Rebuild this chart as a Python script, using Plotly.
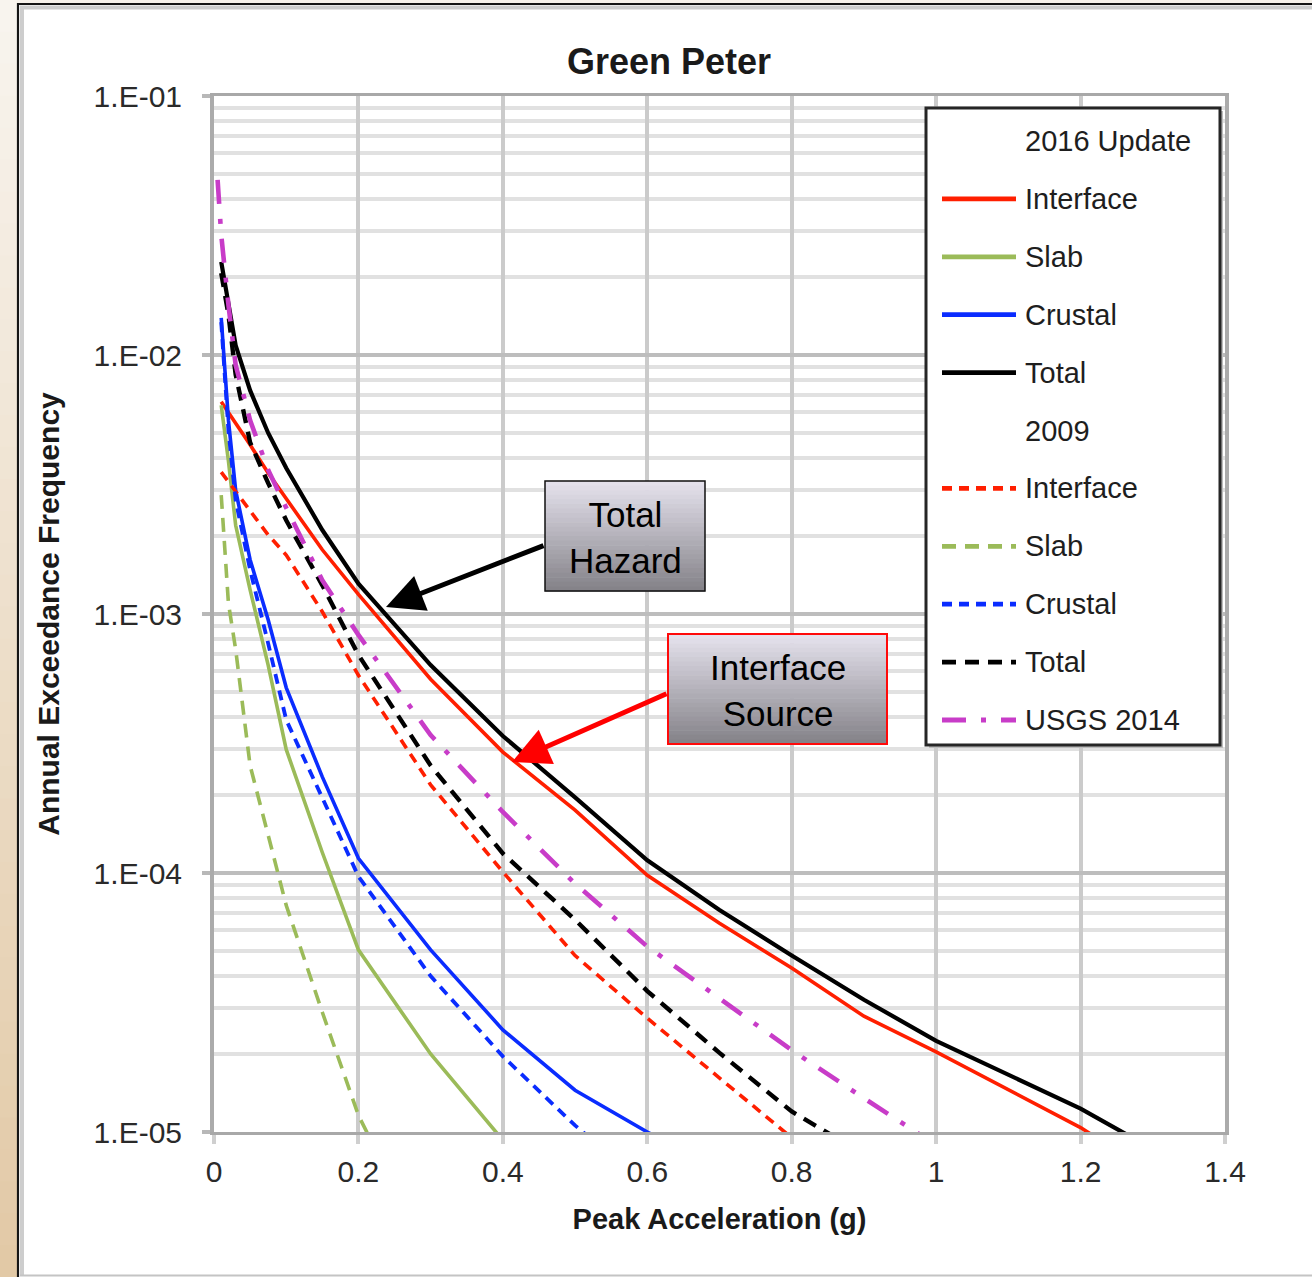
import plotly.graph_objects as go

# ---------------------------------------------------------------------------
# Hazard curves: annual exceedance frequency vs. peak ground acceleration (g)
# ---------------------------------------------------------------------------
pga_2016 = [0.01, 0.02, 0.03, 0.05, 0.075, 0.1, 0.15, 0.2, 0.3, 0.4, 0.5, 0.6,
            0.7, 0.8, 0.9, 1.0, 1.2, 1.4]

interface_2016 = [6.6e-3, 6.0e-3, 5.5e-3, 4.5e-3, 3.5e-3, 2.8e-3, 1.77e-3, 1.19e-3,
                  5.6e-4, 2.93e-4, 1.75e-4, 9.8e-5, 6.4e-5, 4.3e-5, 2.8e-5, 2.04e-5,
                  1.04e-5, 4.6e-6]
slab_2016 = [6.4e-3, 3.9e-3, 2.2e-3, 1.24e-3, 6.35e-4, 3.0e-4, 1.2e-4, 5.05e-5,
             2.0e-5, 9.3e-6, 4.8e-6]
crustal_2016 = [1.39e-2, 5.6e-3, 3.0e-3, 1.62e-3, 9.5e-4, 5.2e-4, 2.35e-4, 1.14e-4,
                5.05e-5, 2.48e-5, 1.45e-5, 1.0e-5, 7.1e-6]
total_2016 = [2.29e-2, 1.56e-2, 1.09e-2, 7.3e-3, 5.0e-3, 3.66e-3, 2.11e-3, 1.31e-3,
              6.35e-4, 3.38e-4, 1.96e-4, 1.12e-4, 7.2e-5, 4.8e-5, 3.24e-5, 2.25e-5,
              1.23e-5, 6.0e-6]

interface_2009 = [3.53e-3, 3.24e-3, 2.96e-3, 2.48e-3, 2.02e-3, 1.69e-3, 1.02e-3, 5.8e-4,
                  2.19e-4, 1.01e-4, 4.8e-5, 2.75e-5, 1.62e-5, 9.5e-6, 6.0e-6]
slab_2009 = [2.88e-3, 1.1e-3, 7.3e-4, 2.6e-4, 1.4e-4, 7.5e-5, 2.9e-5, 1.16e-5, 3.2e-6]
crustal_2009 = [1.34e-2, 5.1e-3, 2.75e-3, 1.48e-3, 7.7e-4, 3.9e-4, 1.95e-4, 9.7e-5,
                4.0e-5, 1.96e-5, 1.06e-5, 6.2e-6]
total_2009 = [2.07e-2, 1.43e-2, 8.4e-3, 4.6e-3, 3.2e-3, 2.3e-3, 1.29e-3, 6.95e-4,
              2.6e-4, 1.19e-4, 6.6e-5, 3.5e-5, 2.02e-5, 1.2e-5, 8.2e-6]

pga_usgs = [0.005, 0.01, 0.02, 0.03, 0.05, 0.075, 0.1, 0.15, 0.2, 0.3, 0.4, 0.5,
            0.6, 0.7, 0.8, 0.9, 1.0, 1.2]
usgs_2014 = [4.74e-2, 2.91e-2, 1.56e-2, 9.15e-3, 5.6e-3, 3.6e-3, 2.57e-3, 1.35e-3,
             8.3e-4, 3.41e-4, 1.72e-4, 9.1e-5, 5.2e-5, 3.3e-5, 2.07e-5, 1.35e-5,
             8.9e-6, 4.5e-6]

x_ticks = [0, 0.2, 0.4, 0.6, 0.8, 1.0, 1.2, 1.4]
x_ticktext = ["0", "0.2", "0.4", "0.6", "0.8", "1", "1.2", "1.4"]
y_ticks = [1e-5, 1e-4, 1e-3, 1e-2, 1e-1]
y_ticktext = ["1.E-05", "1.E-04", "1.E-03", "1.E-02", "1.E-01"]

RED, GREEN, BLUE, BLACK, MAGENTA = "#ff1f00", "#9bbb59", "#0a2cff", "#000000", "#c83cc8"

# (legend label, x, y, colour, dash, width); None rows are legend headings
legend_rows = [
    ("2016 Update", None),
    ("Interface", (pga_2016, interface_2016, RED, "solid", 3.6)),
    ("Slab", (pga_2016, slab_2016, GREEN, "solid", 3.6)),
    ("Crustal", (pga_2016, crustal_2016, BLUE, "solid", 3.6)),
    ("Total", (pga_2016, total_2016, BLACK, "solid", 4.2)),
    ("2009", None),
    ("Interface", (pga_2016, interface_2009, RED, "10px,7px", 3.6)),
    ("Slab", (pga_2016, slab_2009, GREEN, "14px,9px", 3.6)),
    ("Crustal", (pga_2016, crustal_2009, BLUE, "10px,7px", 3.8)),
    ("Total", (pga_2016, total_2009, BLACK, "14px,9px", 4.4)),
    ("USGS 2014", (pga_usgs, usgs_2014, MAGENTA, "24px,15px,5px,15px", 4.6)),
]

FONT = "Liberation Sans, Arial, sans-serif"
W, H = 1312, 1277
ML, MR, MT, MB = 214, 87, 96, 145
PW, PH = W - ML - MR, H - MT - MB


def xp(px):
    return (px - ML) / PW


def yp(py):
    return (H - MB - py) / PH


fig = go.Figure()
for label, spec in legend_rows:
    if spec is None:
        continue
    xs, ys, color, dash, width = spec
    fig.add_trace(go.Scatter(
        x=xs[:len(ys)], y=ys, mode="lines", name=label, showlegend=False,
        line=dict(color=color, dash=dash, width=width),
        hoverinfo="x+y+name",
    ))

shapes = []
annotations = []


def mix(c1, c2, t):
    a = [int(c1[i:i + 2], 16) for i in (1, 3, 5)]
    b = [int(c2[i:i + 2], 16) for i in (1, 3, 5)]
    return "#" + "".join(f"{round(a[k] + (b[k] - a[k]) * t):02x}" for k in range(3))


def rect(x0, y0, x1, y1, fill=None, line=None, lw=0, layer="above"):
    shapes.append(dict(type="rect", xref="paper", yref="paper",
                       x0=xp(x0), x1=xp(x1), y0=yp(y1), y1=yp(y0),
                       fillcolor=fill if fill else "rgba(0,0,0,0)",
                       line=dict(color=line if line else "rgba(0,0,0,0)", width=lw),
                       layer=layer))


def seg(x0, y0, x1, y1, color, width, dash="solid"):
    shapes.append(dict(type="line", xref="paper", yref="paper",
                       x0=xp(x0), x1=xp(x1), y0=yp(y0), y1=yp(y1),
                       line=dict(color=color, width=width, dash=dash), layer="above"))


# page frame: tan strip on the left, light strip on top, dark border, inner bevel
n = 40
for i in range(n):
    y0 = H * i / n
    y1 = H * (i + 1) / n + 1
    rect(0, y0, 17, y1, fill=mix("#f8f4ee", "#e2c9a6", i / (n - 1)))
rect(17, 0, W + 2, 3.5, fill="#f6f1ea")
seg(18, 3, 18, H + 2, "#151515", 2.2)
seg(17, 4, W + 2, 4, "#151515", 2.2)
seg(22, 6, 22, H - 2, "#cdcdcd", 4)
seg(20, 7.5, W + 2, 7.5, "#cdcdcd", 4)
seg(20, 1275.5, W + 2, 1275.5, "#c4c4c4", 2)


# call-out boxes with a vertical grey gradient
def callout(x0, y0, x1, y1, border, bw, text, cx, cy):
    m = 24
    for i in range(m):
        a = y0 + (y1 - y0) * i / m
        b = y0 + (y1 - y0) * (i + 1) / m + 0.6
        rect(x0, a, x1, b, fill=mix("#e4e1ec", "#858389", i / (m - 1)))
    rect(x0, y0, x1, y1, line=border, lw=bw)
    annotations.append(dict(xref="paper", yref="paper", x=xp(cx), y=yp(cy),
                            text=text, showarrow=False, xanchor="center", yanchor="middle",
                            font=dict(family=FONT, size=35, color="#000000")))


callout(545, 481, 705, 591, "#111111", 1.5, "Total<br>Hazard", 625, 537)
callout(668, 634, 887, 744, "#ff0a0a", 2, "Interface<br>Source", 778, 690)


def arrow(tip, tail, color):
    annotations.append(dict(xref="paper", yref="paper", x=xp(tip[0]), y=yp(tip[1]),
                            ax=tail[0] - tip[0], ay=tail[1] - tip[1], text="",
                            showarrow=True, arrowhead=2, arrowsize=1.5, arrowwidth=5,
                            arrowcolor=color, standoff=0))


arrow((386, 607), (545, 545), "#000000")
arrow((512, 762), (668, 693), "#ff0000")

# legend panel
rect(929, 111, 1223, 748, fill="#bdbdbd")
rect(926, 108, 1220, 745, fill="#ffffff", line="#262626", lw=3)
for i, (label, spec) in enumerate(legend_rows):
    cy = 141 + 57.9 * i
    if spec is not None:
        _, _, color, dash, width = spec
        seg(942, cy, 1016, cy, color, 4.8, dash)
    annotations.append(dict(xref="paper", yref="paper", x=xp(1023), y=yp(cy),
                            text=label, showarrow=False, xanchor="left", yanchor="middle",
                            font=dict(family=FONT, size=29, color="#1e1e1e")))

minor_vals = [k * 10.0 ** e for e in range(-5, -1) for k in range(2, 10)]

fig.update_layout(
    width=W, height=H,
    margin=dict(l=ML, r=MR, t=MT, b=MB, pad=0),
    paper_bgcolor="#ffffff", plot_bgcolor="#ffffff",
    font=dict(family=FONT, color="#222222"),
    title=dict(text="<b>Green Peter</b>", x=669 / W, xanchor="center",
               y=1 - 61 / H, yanchor="middle",
               font=dict(family=FONT, size=36, color="#1a1a1a")),
    xaxis=dict(
        range=[0, 1.4], tickmode="array", tickvals=x_ticks, ticktext=x_ticktext,
        showgrid=True, gridcolor="#cbcbcb", gridwidth=4, zeroline=False,
        showline=True, linecolor="#a8a8a8", linewidth=3, mirror=True,
        ticks="outside", ticklen=9, tickwidth=4, tickcolor="#cfcfcf",
        tickfont=dict(family=FONT, size=30, color="#2a2a2a"),
        ticklabelstandoff=2,
        title=dict(text="<b>Peak Acceleration (g)</b>", standoff=22,
                   font=dict(family=FONT, size=29, color="#1a1a1a")),
    ),
    yaxis=dict(
        type="log", range=[-5, -1], tickmode="array", tickvals=y_ticks, ticktext=y_ticktext,
        showgrid=True, gridcolor="#bdbdbd", gridwidth=4, zeroline=False,
        showline=True, linecolor="#ababab", linewidth=4, mirror=True,
        ticks="outside", ticklen=8, tickwidth=4, tickcolor="#b8b8b8",
        tickfont=dict(family=FONT, size=30, color="#2a2a2a"),
        ticklabelstandoff=14,
        minor=dict(tickmode="array", tickvals=minor_vals, showgrid=True,
                   gridcolor="#e1e1e1", gridwidth=4, ticks=""),
        title=dict(text="<b>Annual Exceedance Frequency</b>", standoff=26,
                   font=dict(family=FONT, size=30, color="#1a1a1a")),
    ),
    shapes=shapes,
    annotations=annotations,
    showlegend=False,
)

fig.write_html("out.html")
